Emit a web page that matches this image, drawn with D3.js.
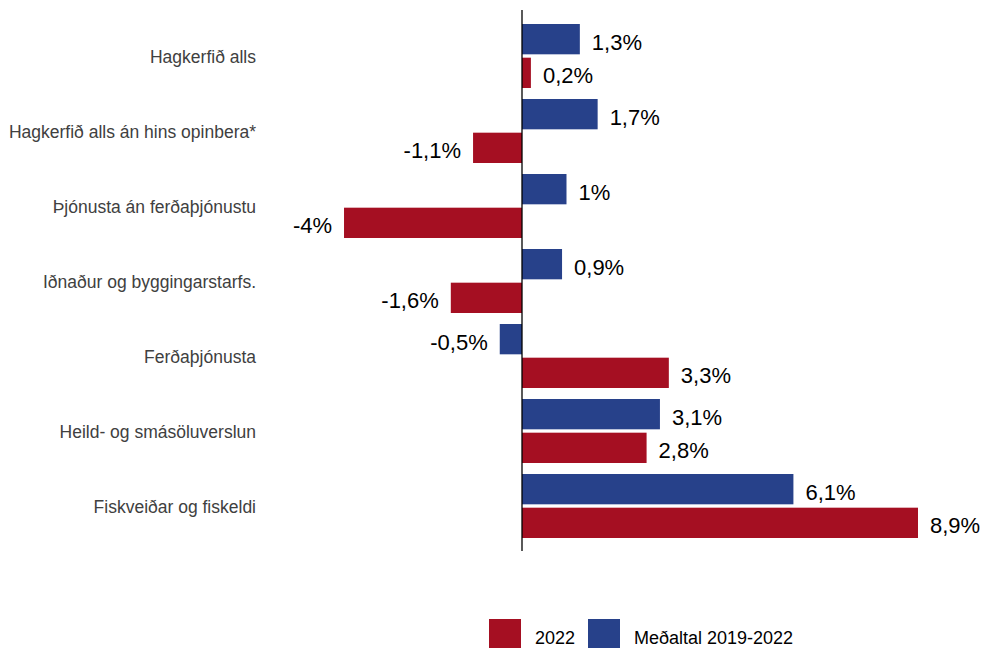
<!DOCTYPE html>
<html><head><meta charset="utf-8">
<script src="https://cdn.jsdelivr.net/npm/d3@7"></script>
<style>body{margin:0;background:#fff}svg{display:block}</style>
</head><body>
<svg id="c" width="982" height="648"></svg>
<script>
const categories = ["Hagkerfið alls","Hagkerfið alls án hins opinbera*","Þjónusta án ferðaþjónustu","Iðnaður og byggingarstarfs.","Ferðaþjónusta","Heild- og smásöluverslun","Fiskveiðar og fiskeldi"];
const seriesNames = ["Meðaltal 2019-2022","2022"];
const avgValues = [1.3,1.7,1,0.9,-0.5,3.1,6.1];
const y2022Values = [0.2,-1.1,-4,-1.6,3.3,2.8,8.9];
const colors = {"Meðaltal 2019-2022":"#27418a","2022":"#a50f22"};

const svg = d3.select("#c");
const x = d3.scaleLinear().domain([0,8.9]).range([522,918]);
const y = d3.scaleBand().domain(categories).range([18.5,543.5]);
const ys = d3.scaleBand().domain(seriesNames).range([5.5,y.bandwidth()-5.5]).paddingInner(0.1);

const data = [];
categories.forEach((c,i)=>{
  data.push({cat:c,s:seriesNames[0],v:avgValues[i]});
  data.push({cat:c,s:seriesNames[1],v:y2022Values[i]});
});
const fmt = v => String(v).replace(".",",") + "%";

svg.selectAll("rect.bar").data(data).join("rect").attr("class","bar")
  .attr("x",d=>Math.min(x(0),x(d.v)))
  .attr("width",d=>Math.abs(x(d.v)-x(0)))
  .attr("y",d=>y(d.cat)+ys(d.s))
  .attr("height",ys.bandwidth())
  .attr("fill",d=>colors[d.s]);

svg.selectAll("text.val").data(data).join("text").attr("class","val")
  .attr("x",d=>d.v>=0 ? x(d.v)+12 : x(d.v)-12)
  .attr("y",d=>y(d.cat)+ys(d.s)+ys.bandwidth()/2)
  .attr("dy","0.48em")
  .attr("text-anchor",d=>d.v>=0?"start":"end")
  .attr("font-family","Liberation Sans, Arial, sans-serif")
  .attr("font-size",22).attr("fill","#000")
  .text(d=>fmt(d.v));

svg.selectAll("text.cat").data(categories).join("text").attr("class","cat")
  .attr("x",256).attr("y",d=>y(d)+y.bandwidth()/2)
  .attr("dy","0.42em").attr("text-anchor","end")
  .attr("font-family","Liberation Sans, Arial, sans-serif")
  .attr("font-size",17.5).attr("fill","#404040")
  .text(d=>d);

svg.append("line").attr("x1",x(0)).attr("x2",x(0)).attr("y1",10).attr("y2",551)
  .attr("stroke","#000").attr("stroke-width",1.3);

const legendItems = [{s:"2022",x:489},{s:"Meðaltal 2019-2022",x:588}];
const lg = svg.selectAll("g.lg").data(legendItems).join("g").attr("class","lg")
  .attr("transform",d=>`translate(${d.x},619)`);
lg.append("rect").attr("width",32).attr("height",31).attr("fill",d=>colors[d.s]);
lg.append("text").attr("x",46).attr("y",24.5)
  .attr("font-family","Liberation Sans, Arial, sans-serif")
  .attr("font-size",18).attr("fill","#000").text(d=>d.s);
</script>
</body></html>
